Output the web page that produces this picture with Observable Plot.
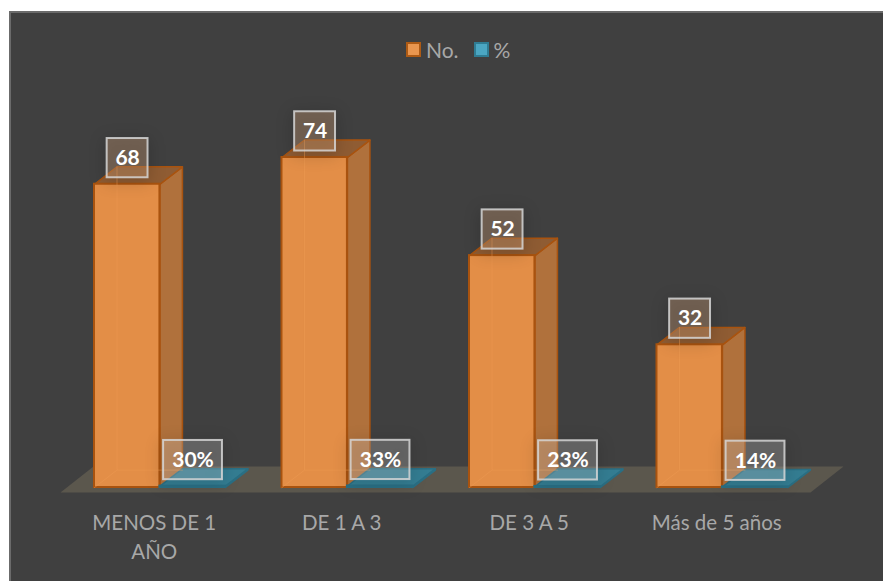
<!DOCTYPE html>
<html lang="es">
<head>
<meta charset="utf-8">
<script src="https://cdn.jsdelivr.net/npm/d3@7"></script>
<script src="https://cdn.jsdelivr.net/npm/@observablehq/plot@0.6"></script>
<style>
  html, body { margin: 0; padding: 0; background: #fff; overflow: hidden; }
  #panel { position: absolute; left: 9px; top: 11px; width: 874px; height: 570px; box-sizing: border-box;
           background: #404040; border-top: 2px solid #6b6b6b; border-left: 2px solid #6b6b6b; }
  #chart { position: absolute; left: 0; top: 0; }
  #chart svg { background: transparent !important; display: block; }
  .legend { position: absolute; top: 36px; left: 406px; display: flex; align-items: center; height: 26px;
            font: 21px Lato, sans-serif; color: #a8a8a8; }
  .legend i { display: inline-block; width: 11px; height: 11px; border: 2px solid; margin-right: 5px; }
  .legend span { margin-right: 15px; }
</style>
</head>
<body>
<div id="panel"></div>
<div id="chart"></div>
<div class="legend">
  <i style="background:#e9964f;border-color:#ad5a14"></i><span>No.</span>
  <i style="background:#4ba6c2;border-color:#2f7c93"></i><span>%</span>
</div>
<script>
const categories = ["MENOS DE 1\nAÑO", "DE 1 A 3", "DE 3 A 5", "Más de 5 años"];
const counts = [68, 74, 52, 32];
const percents = [30, 33, 23, 14];

// Chart geometry expressed in the scales' units (x: categories, y: value)
const barStart = 0.1813, barWidth = 0.349, depthX = 0.12, depthY = 3.9;
const floorY0 = -1.1, floorY1 = 4.7;
const boxHalfY = 4.4, boxOffsetY = 5.85;

const face = (id, pts) => [...pts, pts[0]].map(([x, y]) => ({id, x, y}));
const bars = [];
counts.forEach((v, i) => bars.push({i, x0: i + barStart, x1: i + barStart + barWidth, v, series: "n"}));
percents.forEach((p, i) => bars.push({i, x0: i + barStart + barWidth, x1: i + barStart + 2 * barWidth, v: p / 100, series: "p", p}));

const sideFaces = [], topFaces = [], hidden = [];
bars.forEach((b, k) => {
  sideFaces.push(...face(`s${k}`, [[b.x1, 0], [b.x1 + depthX, depthY], [b.x1 + depthX, b.v + depthY], [b.x1, b.v]]).map(d => ({...d, series: b.series})));
  topFaces.push(...face(`t${k}`, [[b.x0, b.v], [b.x1, b.v], [b.x1 + depthX, b.v + depthY], [b.x0 + depthX, b.v + depthY]]).map(d => ({...d, series: b.series})));
  if (b.series === "n") {
    hidden.push(
      {id: `h${k}a`, x: b.x0 + depthX, y: b.v + depthY},
      {id: `h${k}a`, x: b.x0 + depthX, y: depthY},
      {id: `h${k}a`, x: b.x1 + depthX, y: depthY},
      {id: `h${k}b`, x: b.x0, y: 0},
      {id: `h${k}b`, x: b.x0 + depthX, y: depthY}
    );
  }
});
const floor = face("floor", [[0, floorY0], [4, floorY0], [4 + depthX + 0.056, floorY1], [depthX + 0.056, floorY1]]);

const sideFill = {n: "#b0713c", p: "#2f7488"};
const topFill = {n: "#8f5c33", p: "#347d92"};
const edge = {n: "#a9530f", p: "#2a6f84"};
const shadow = "drop-shadow(0 3px 8px rgba(0,0,0,.4))";

const boxes = bars.map(b => {
  const cx = (b.x0 + b.x1) / 2 + 0.002;
  const hw = b.series === "p" ? 0.157 : 0.109;
  return {x1: cx - hw, x2: cx + hw, cx, y1: b.v + boxOffsetY - boxHalfY, y2: b.v + boxOffsetY + boxHalfY,
          cy: b.v + boxOffsetY, series: b.series, label: b.series === "p" ? `${b.p}%` : `${b.v}`};
});

const plot = Plot.plot({
  width: 883, height: 581,
  marginLeft: 60, marginRight: 73, marginTop: 0, marginBottom: 94,
  x: {domain: [0, 4], axis: null},
  y: {domain: [0, 109.2], axis: null},
  style: {background: "transparent", fontFamily: "Lato, sans-serif"},
  marks: [
    Plot.line(floor, {x: "x", y: "y", z: "id", fill: "#5b574d", stroke: null, curve: "linear"}),
    Plot.line(sideFaces, {x: "x", y: "y", z: "id", fill: d => sideFill[d.series], stroke: d => edge[d.series], strokeWidth: 1.5, strokeLinejoin: "round"}),
    Plot.line(topFaces, {x: "x", y: "y", z: "id", fill: d => topFill[d.series], stroke: d => edge[d.series], strokeWidth: 1.5, strokeLinejoin: "round"}),
    Plot.rect(bars, {x1: "x0", x2: "x1", y1: 0, y2: "v",
      fill: d => d.series === "n" ? "#e38e47" : "#347d92",
      stroke: d => edge[d.series], strokeWidth: 2}),
    Plot.line(hidden, {x: "x", y: "y", z: "id", stroke: "#ee9a52", strokeOpacity: 0.5, strokeWidth: 1}),
    Plot.axisX({
      ticks: categories.map((_, i) => i + 0.5),
      tickFormat: t => categories[Math.floor(t)],
      tickSize: 0, tickPadding: 23, fontSize: 20.5, lineHeight: 1.37,
      fill: "#a8a8a8", label: null
    }),
    Plot.rect(boxes, {x1: "x1", x2: "x2", y1: "y1", y2: "y2",
      fill: d => d.series === "n" ? "#d3a27c" : "#ffffff", fillOpacity: d => d.series === "n" ? 0.35 : 0.2,
      stroke: "#d6d6d6", strokeOpacity: 0.85, strokeWidth: 2, imageFilter: shadow}),
    Plot.text(boxes, {x: "cx", y: "cy", text: "label", fill: "#ffffff", fontSize: 21, fontWeight: 700})
  ]
});
document.getElementById("chart").append(plot);
</script>
</body>
</html>
